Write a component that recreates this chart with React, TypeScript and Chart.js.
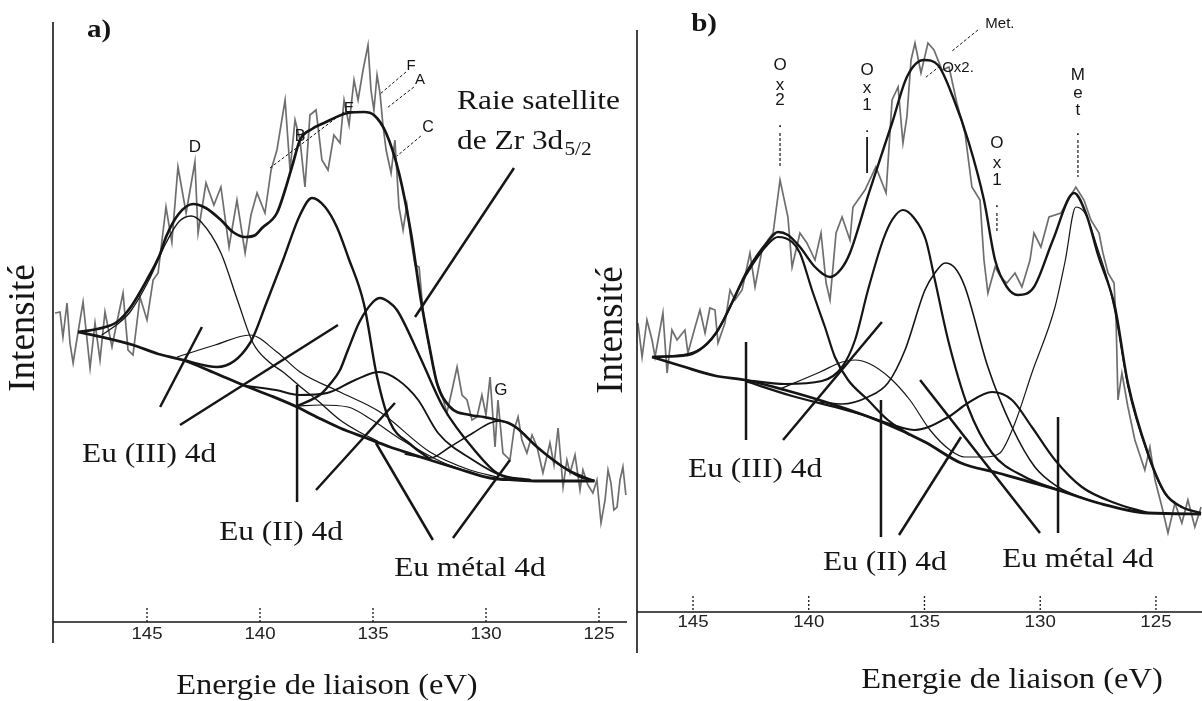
import React, { useEffect, useRef } from 'react';
import { Chart, registerables } from 'chart.js';
Chart.register(...registerables);

type P = [number, number];

// ---------- shared axis ticks ----------
const tickValues = [145, 140, 135, 130, 125];
const tickLabels = ['145', '140', '135', '130', '125'];

// ---------- panel a) : binding energy (eV), intensity (a.u.) ----------
const rawA: P[] = [
  [149.07, 309], [148.85, 310], [148.72, 285], [148.54, 319], [148.41, 279], [148.27, 259], [148.05, 290],
  [147.83, 320], [147.52, 254], [147.30, 299], [147.08, 262], [146.86, 310], [146.55, 275], [146.33, 300],
  [146.06, 329], [145.84, 272], [145.62, 267], [145.31, 325], [145.00, 302], [144.73, 342], [144.51, 349],
  [144.16, 415], [143.90, 380], [143.63, 455], [143.27, 409], [142.88, 460], [142.74, 389], [142.39, 439],
  [142.04, 417], [141.73, 435], [141.37, 375], [141.02, 422], [140.66, 369], [140.40, 407], [140.13, 429],
  [139.78, 409], [139.51, 452], [139.25, 472], [138.89, 522], [138.67, 452], [138.45, 502], [138.23, 482],
  [138.01, 435], [137.79, 507], [137.52, 512], [137.26, 462], [136.99, 452], [136.73, 487], [136.46, 479],
  [136.28, 522], [136.06, 497], [135.84, 542], [135.66, 522], [135.44, 552], [135.22, 577], [135.09, 532],
  [134.96, 512], [134.82, 547], [134.69, 529], [134.56, 497], [134.42, 472], [134.20, 449], [134.03, 482],
  [133.85, 415], [133.67, 392], [133.50, 417], [133.32, 382], [133.14, 357], [132.96, 355], [132.79, 312],
  [132.57, 282], [132.35, 257], [132.17, 239], [131.95, 227], [131.73, 209], [131.50, 232], [131.28, 255],
  [131.06, 227], [130.84, 222], [130.62, 202], [130.40, 205], [130.18, 227], [130.00, 207], [129.82, 245],
  [129.60, 175], [129.47, 222], [129.25, 169], [128.94, 162], [128.76, 192], [128.58, 205], [128.41, 182],
  [128.19, 169], [127.96, 187], [127.74, 175], [127.48, 149], [127.17, 179], [126.99, 157], [126.81, 194],
  [126.59, 135], [126.42, 162], [126.28, 149], [126.06, 167], [125.84, 132], [125.71, 152], [125.49, 137],
  [125.27, 129], [125.09, 142], [124.91, 99], [124.73, 122], [124.60, 152], [124.47, 139], [124.34, 112],
  [124.20, 115], [124.07, 142], [123.94, 155], [123.81, 127],
];
const envA: P[] = [
  [148.05, 290], [147.20, 293], [146.33, 300], [145.75, 314], [144.96, 344], [144.42, 368], [144.16, 385],
  [143.60, 408], [142.96, 418], [142.40, 414], [141.73, 402], [141.20, 390], [140.66, 385], [140.20, 387],
  [139.91, 394], [139.25, 409], [138.89, 432], [138.55, 458], [138.23, 482], [137.70, 493], [137.17, 499],
  [136.11, 509], [135.40, 510], [134.96, 507], [134.42, 489], [133.85, 449], [133.32, 389], [132.88, 322],
  [132.50, 275], [132.17, 239], [131.59, 215], [130.71, 207], [130.10, 205], [129.51, 202], [129.00, 199],
  [128.63, 194], [127.74, 175], [126.59, 155], [125.90, 146], [125.20, 141],
];
const bgA: P[] = [
  [148.05, 290], [147.00, 285], [145.62, 277], [144.50, 268], [143.41, 262], [142.00, 249], [140.75, 237],
  [139.50, 226], [138.36, 215], [137.40, 204], [136.46, 194], [135.30, 184], [134.25, 175], [133.30, 168],
  [132.48, 162], [131.20, 153], [129.82, 144], [128.70, 142], [127.61, 141], [125.20, 141],
];
const peakA_D: P[] = [
  [147.00, 287], [146.30, 298], [145.75, 310], [144.96, 340], [144.16, 379], [143.60, 400], [143.05, 406],
  [142.60, 400], [141.73, 369], [141.00, 322], [140.31, 279], [139.60, 260], [138.98, 250], [138.20, 235],
  [137.48, 222], [136.46, 202], [135.60, 190], [134.80, 181],
];
const peakA_140: P[] = [
  [143.67, 265], [141.99, 277], [140.44, 287], [139.25, 270], [138.23, 250], [136.46, 230], [134.69, 210],
  [132.48, 170], [130.71, 152], [129.50, 145],
];
const peakA_137: P[] = [
  [143.41, 262], [141.90, 255], [140.44, 279], [139.70, 320], [138.98, 362], [138.23, 407], [137.70, 424],
  [137.12, 415], [136.60, 395], [136.10, 365], [135.40, 318], [134.82, 245], [134.25, 200], [133.36, 178],
  [132.48, 163],
];
const peakA_135: P[] = [
  [138.36, 216], [137.30, 228], [136.90, 238], [136.46, 252], [136.11, 272], [135.60, 300], [135.00, 320],
  [134.69, 324], [134.30, 320], [133.94, 312], [132.92, 265], [131.90, 215], [130.40, 169], [129.51, 149],
  [128.05, 142],
];
const peakA_134: P[] = [
  [140.60, 236], [139.30, 232], [138.27, 227], [137.03, 229], [135.79, 242], [134.73, 250], [133.89, 242],
  [133.00, 222], [132.12, 189], [130.58, 162], [129.16, 145], [128.00, 142],
];
const peakA_136: P[] = [
  [138.36, 216], [137.34, 217], [136.11, 215], [135.04, 202], [133.72, 182], [131.95, 160], [130.20, 146],
];
const peakA_G: P[] = [
  [133.60, 168], [132.48, 164], [131.60, 175], [130.58, 189], [129.82, 199], [129.40, 201], [128.63, 194],
  [127.74, 175], [126.59, 155], [125.20, 141],
];

// ---------- panel b) ----------
const rawB: P[] = [
  [147.38, 289], [147.20, 255], [146.99, 292], [146.77, 272], [146.64, 255], [146.30, 299], [146.12, 239],
  [145.91, 282], [145.69, 272], [145.35, 282], [145.22, 259], [144.91, 285], [144.70, 302], [144.48, 279],
  [144.27, 304], [144.05, 302], [143.92, 269], [143.62, 289], [143.40, 322], [143.19, 312], [142.88, 322],
  [142.54, 359], [142.32, 325], [142.02, 362], [141.76, 372], [141.54, 379], [141.24, 432], [140.90, 395],
  [140.72, 345], [140.38, 379], [140.08, 369], [139.73, 352], [139.47, 379], [139.25, 329], [139.08, 312],
  [138.82, 379], [138.56, 395], [138.22, 372], [138.09, 405], [137.57, 422], [137.10, 445], [136.66, 419],
  [136.40, 512], [136.14, 525], [135.93, 469], [135.76, 495], [135.58, 552], [135.41, 569], [135.15, 539],
  [134.85, 569], [134.59, 562], [134.24, 542], [133.94, 545], [133.60, 509], [133.25, 479], [132.95, 425],
  [132.60, 412], [132.43, 352], [132.26, 319], [131.95, 345], [131.70, 335], [131.44, 329], [131.09, 339],
  [130.79, 325], [130.44, 352], [130.27, 379], [129.97, 365], [129.62, 395], [129.10, 399], [128.80, 412],
  [128.46, 425], [128.11, 412], [127.81, 392], [127.46, 379], [127.29, 359], [127.07, 339], [126.81, 329],
  [126.72, 289], [126.64, 212], [126.47, 239], [126.21, 205], [125.91, 172], [125.48, 142], [125.26, 165],
  [125.04, 132], [124.74, 105], [124.48, 79], [124.18, 109], [123.88, 89], [123.62, 112], [123.32, 85],
  [123.05, 105],
];
const envB: P[] = [
  [146.77, 255], [145.22, 257], [144.50, 266], [143.92, 282], [143.30, 310], [142.71, 339], [141.72, 372],
  [141.33, 380], [140.90, 377], [140.38, 365], [139.73, 345], [139.08, 335], [138.60, 343], [138.22, 359],
  [137.40, 419], [136.40, 489], [135.76, 535], [135.02, 552], [134.42, 547], [133.77, 515], [133.08, 469],
  [132.43, 412], [131.95, 352], [131.44, 325], [130.96, 317], [130.27, 325], [129.45, 372], [128.54, 419],
  [128.00, 397], [127.50, 357], [126.77, 305], [126.21, 229], [125.35, 159], [124.61, 119], [123.88, 105],
  [123.05, 99],
];
const bgB: P[] = [
  [146.77, 255], [145.50, 246], [144.00, 236], [142.75, 232], [141.03, 222], [138.87, 207], [136.84, 190],
  [134.98, 170], [133.42, 149], [131.82, 139], [129.23, 122], [127.49, 109], [125.35, 99], [123.05, 98],
];
const peakB_Ox2: P[] = [
  [146.77, 255], [145.22, 258], [144.50, 266], [143.92, 282], [142.71, 337], [141.72, 369], [141.33, 375],
  [140.72, 370], [140.38, 359], [139.86, 322], [139.30, 285], [138.87, 255], [138.30, 232], [137.44, 212],
  [136.58, 192], [135.63, 177],
];
const peakB_136: P[] = [
  [142.75, 232], [141.03, 228], [139.43, 231], [138.56, 245], [138.00, 272], [137.44, 322], [136.79, 372],
  [136.40, 392], [135.93, 402], [135.45, 394], [134.94, 372], [134.55, 332], [133.98, 272], [133.12, 205],
  [132.08, 159], [130.66, 135], [129.23, 122],
];
const peakB_134: P[] = [
  [139.51, 210], [138.56, 208], [137.44, 215], [136.58, 229], [135.84, 262], [134.98, 322], [134.55, 339],
  [134.11, 349], [133.68, 344], [133.25, 325], [132.26, 245], [131.22, 185], [130.23, 145], [129.23, 125],
  [128.28, 115], [127.49, 109],
];
const peakB_132: P[] = [
  [142.75, 231], [140.72, 216], [138.87, 205], [137.79, 198], [136.49, 188], [135.41, 182], [133.98, 195],
  [133.12, 209], [132.08, 220], [131.22, 212], [130.36, 185], [129.36, 152], [128.20, 125], [126.77, 109],
  [125.35, 99],
];
const peakB_Met: P[] = [
  [141.24, 223], [139.51, 240], [138.56, 250], [138.00, 252], [137.35, 248], [136.49, 234], [135.63, 212],
  [134.76, 182], [133.90, 162], [133.25, 155], [132.39, 155], [131.74, 159], [131.09, 189], [130.36, 239],
  [129.36, 305], [128.93, 350], [128.46, 405], [128.02, 397], [127.50, 362], [127.10, 333], [126.77, 300],
  [126.21, 225], [125.35, 157], [124.61, 118], [123.88, 104],
];

// ---------- styling / annotation config ----------
const SERIF = "'Liberation Serif', 'Times New Roman', serif";
const SANS = "'Liberation Sans', Arial, sans-serif";
const INK = '#151515';
const RAW = 'rgba(85,85,85,0.85)';

type Txt = { s: string; e: number; v: number; size: number; kind: 'serif' | 'sans' | 'bold'; align?: CanvasTextAlign; sub?: string; rot?: boolean };
type Seg = { a: P; b: P; w: number; dash?: boolean };

const panelA = {
  width: 632,
  padding: { left: 53, right: 5, top: 22, bottom: 79 },
  xMin: 123.76, xMax: 149.16, yMax: 600,
  yAxisOverhang: 21, tickLen: 14, tickLabelOffset: 12,
  series: [
    { pts: rawA, w: 1.7, color: RAW, smooth: false, order: 9 },
    { pts: peakA_D, w: 1.3, color: INK, smooth: true, order: 2 },
    { pts: peakA_140, w: 1.2, color: INK, smooth: true, order: 2 },
    { pts: peakA_136, w: 1.2, color: INK, smooth: true, order: 2 },
    { pts: peakA_G, w: 1.6, color: INK, smooth: true, order: 2 },
    { pts: peakA_134, w: 1.9, color: INK, smooth: true, order: 1 },
    { pts: peakA_137, w: 2.4, color: INK, smooth: true, order: 1 },
    { pts: peakA_135, w: 2.4, color: INK, smooth: true, order: 1 },
    { pts: bgA, w: 2.8, color: INK, smooth: true, order: 0 },
    { pts: envA, w: 2.7, color: INK, smooth: true, order: 0 },
  ],
  texts: [
    { s: 'a)', e: 147.12, v: 592, size: 26, kind: 'bold' },
    { s: 'D', e: 142.88, v: 475, size: 17, kind: 'sans' },
    { s: 'B', e: 138.23, v: 485, size: 16, kind: 'sans' },
    { s: 'E', e: 136.06, v: 514, size: 15, kind: 'sans' },
    { s: 'F', e: 133.32, v: 556, size: 15, kind: 'sans' },
    { s: 'A', e: 132.92, v: 542, size: 15, kind: 'sans' },
    { s: 'C', e: 132.57, v: 494, size: 16, kind: 'sans' },
    { s: 'G', e: 129.34, v: 232, size: 17, kind: 'sans' },
    { s: 'Raie satellite', e: 131.28, v: 520, size: 28, kind: 'serif', align: 'left' },
    { s: 'de Zr 3d', sub: '5/2', e: 131.28, v: 480, size: 28, kind: 'serif', align: 'left' },
    { s: 'Eu (III) 4d', e: 144.91, v: 167, size: 28, kind: 'serif' },
    { s: 'Eu (II) 4d', e: 139.07, v: 89, size: 28, kind: 'serif' },
    { s: 'Eu métal 4d', e: 130.71, v: 53, size: 28, kind: 'serif' },
    { s: 'Energie de liaison (eV)', e: 137.04, v: -64, size: 29, kind: 'serif' },
    { s: 'Intensité', e: 150.44, v: 294, size: 37, kind: 'serif', rot: true },
  ] as Txt[],
  segs: [
    { a: [144.42, 215], b: [142.57, 295], w: 2.5 },
    { a: [143.54, 197], b: [136.55, 297], w: 2.5 },
    { a: [138.36, 237], b: [138.36, 120], w: 2.5 },
    { a: [137.52, 132], b: [134.03, 219], w: 2.5 },
    { a: [134.87, 179], b: [132.35, 82], w: 2.5 },
    { a: [131.46, 84], b: [128.94, 162], w: 2.5 },
    { a: [128.76, 454], b: [133.14, 305], w: 2.5 },
    { a: [133.54, 550], b: [134.69, 528], w: 1, dash: true },
    { a: [133.19, 535], b: [134.38, 514], w: 1, dash: true },
    { a: [132.88, 486], b: [133.94, 466], w: 1, dash: true },
    { a: [136.28, 510], b: [139.56, 454], w: 1, dash: true },
  ] as Seg[],
  stacks: [] as { chars: string[]; e: number; vs: number[] }[],
};

const panelB = {
  width: 612,
  padding: { left: 47, right: 0, top: 30, bottom: 89 },
  xMin: 123.01, xMax: 147.42, yMax: 582,
  yAxisOverhang: 41, tickLen: 16, tickLabelOffset: 10,
  series: [
    { pts: rawB, w: 1.7, color: RAW, smooth: false, order: 9 },
    { pts: peakB_Met, w: 1.2, color: INK, smooth: true, order: 2 },
    { pts: peakB_134, w: 1.6, color: INK, smooth: true, order: 2 },
    { pts: peakB_132, w: 2.2, color: INK, smooth: true, order: 1 },
    { pts: peakB_136, w: 2.2, color: INK, smooth: true, order: 1 },
    { pts: peakB_Ox2, w: 2.2, color: INK, smooth: true, order: 1 },
    { pts: bgB, w: 2.8, color: INK, smooth: true, order: 0 },
    { pts: envB, w: 2.4, color: INK, smooth: true, order: 0 },
  ],
  texts: [
    { s: 'b)', e: 144.52, v: 588, size: 26, kind: 'bold' },
    { s: 'Met.', e: 131.74, v: 588, size: 15, kind: 'sans' },
    { s: 'Ox2.', e: 133.55, v: 544, size: 15, kind: 'sans' },
    { s: 'Eu (III) 4d', e: 142.32, v: 142, size: 28, kind: 'serif' },
    { s: 'Eu (II) 4d', e: 136.71, v: 49, size: 28, kind: 'serif' },
    { s: 'Eu métal 4d', e: 128.37, v: 52, size: 28, kind: 'serif' },
    { s: 'Energie de liaison (eV)', e: 131.22, v: -68, size: 29, kind: 'serif' },
    { s: 'Intensité', e: 148.50, v: 282, size: 37, kind: 'serif', rot: true },
  ] as Txt[],
  segs: [
    { a: [142.71, 270], b: [142.71, 172], w: 2.5 },
    { a: [141.11, 172], b: [136.84, 290], w: 2.5 },
    { a: [136.88, 212], b: [136.88, 75], w: 2.5 },
    { a: [136.10, 77], b: [133.42, 175], w: 2.5 },
    { a: [135.19, 232], b: [130.01, 79], w: 2.5 },
    { a: [129.23, 195], b: [129.23, 79], w: 2.5 },
    { a: [141.24, 479], b: [141.24, 445], w: 1.2, dash: true },
    { a: [137.48, 475], b: [137.48, 439], w: 1.8 },
    { a: [131.87, 399], b: [131.87, 379], w: 1.2, dash: true },
    { a: [128.37, 472], b: [128.37, 435], w: 1.2, dash: true },
    { a: [132.69, 582], b: [133.86, 560], w: 1, dash: true },
    { a: [134.33, 546], b: [134.98, 534], w: 1, dash: true },
  ] as Seg[],
  stacks: [
    { chars: ['O', 'x', '2', '.'], e: 141.24, vs: [547, 527, 512, 490] },
    { chars: ['O', 'x', '1', '.'], e: 137.48, vs: [542, 524, 507, 485] },
    { chars: ['O', 'x', '1', '.'], e: 131.87, vs: [469, 449, 432, 410] },
    { chars: ['M', 'e', 't', '.'], e: 128.37, vs: [537, 519, 502, 482] },
  ],
};

function fontOf(t: { size: number; kind: string }) {
  if (t.kind === 'bold') return `bold ${t.size}px ${SERIF}`;
  if (t.kind === 'sans') return `${t.size}px ${SANS}`;
  return `${t.size}px ${SERIF}`;
}

function overlay(panel: any) {
  return {
    id: 'overlay',
    afterDatasetsDraw(chart: any) {
      const { ctx, chartArea: ca } = chart;
      const xs = chart.scales.x;
      const ys = chart.scales.y;
      const px = (e: number) => xs.getPixelForValue(e);
      const py = (v: number) => ys.getPixelForValue(v);
      ctx.save();
      ctx.strokeStyle = INK;
      ctx.fillStyle = INK;
      ctx.lineCap = 'butt';
      // axis lines
      ctx.lineWidth = 1.6;
      ctx.beginPath();
      ctx.moveTo(ca.left, ca.top);
      ctx.lineTo(ca.left, ca.bottom + panel.yAxisOverhang);
      ctx.moveTo(ca.left, ca.bottom);
      ctx.lineTo(ca.right, ca.bottom);
      ctx.stroke();
      // ticks (dotted, inside)
      ctx.lineWidth = 1.3;
      ctx.setLineDash([2, 2]);
      tickValues.forEach((t) => {
        const X = px(t);
        ctx.beginPath();
        ctx.moveTo(X, ca.bottom - panel.tickLen);
        ctx.lineTo(X, ca.bottom);
        ctx.stroke();
      });
      ctx.setLineDash([]);
      // tick labels
      tickValues.forEach((t, i) => {
        ctx.save();
        ctx.translate(px(t), ca.bottom + panel.tickLabelOffset);
        ctx.scale(1.1, 1);
        ctx.font = `17px ${SANS}`;
        ctx.textAlign = 'center';
        ctx.textBaseline = 'middle';
        ctx.fillStyle = '#222';
        ctx.fillText(tickLabels[i], 0, 0);
        ctx.restore();
      });
      // segments
      panel.segs.forEach((s: Seg) => {
        ctx.lineWidth = s.w;
        ctx.setLineDash(s.dash ? [3, 2] : []);
        ctx.beginPath();
        ctx.moveTo(px(s.a[0]), py(s.a[1]));
        ctx.lineTo(px(s.b[0]), py(s.b[1]));
        ctx.stroke();
      });
      ctx.setLineDash([]);
      // texts
      panel.texts.forEach((t: Txt) => {
        ctx.save();
        ctx.translate(px(t.e), py(t.v));
        if (t.rot) ctx.rotate(-Math.PI / 2);
        else if (t.kind !== 'sans') ctx.scale(1.12, 1);
        ctx.font = fontOf(t);
        ctx.textAlign = t.align || 'center';
        ctx.textBaseline = 'middle';
        ctx.fillText(t.s, 0, 0);
        if (t.sub) {
          const w = ctx.measureText(t.s).width;
          ctx.font = `${Math.round(t.size * 0.68)}px ${SERIF}`;
          ctx.textAlign = 'left';
          ctx.fillText(t.sub, w + 1, 8);
        }
        ctx.restore();
      });
      // stacked vertical labels
      panel.stacks.forEach((st: any) => {
        st.chars.forEach((c: string, i: number) => {
          ctx.font = `17px ${SANS}`;
          ctx.textAlign = 'center';
          ctx.textBaseline = 'middle';
          ctx.fillText(c, px(st.e), py(st.vs[i]));
        });
      });
      ctx.restore();
    },
  };
}

function buildConfig(panel: any): any {
  return {
    type: 'line',
    data: {
      datasets: panel.series.map((s: any, i: number) => ({
        label: 'series' + i,
        data: s.pts.map(([x, y]: P) => ({ x, y })),
        borderColor: s.color,
        borderWidth: s.w,
        pointRadius: 0,
        fill: false,
        tension: s.smooth ? 0.4 : 0,
        cubicInterpolationMode: s.smooth ? 'monotone' : 'default',
        order: s.order,
        clip: false,
      })),
    },
    options: {
      animation: false,
      responsive: false,
      devicePixelRatio: 1,
      events: [],
      layout: { padding: panel.padding },
      plugins: { legend: { display: false }, tooltip: { enabled: false }, title: { display: false } },
      scales: {
        x: { type: 'linear', reverse: true, min: panel.xMin, max: panel.xMax, display: false },
        y: { type: 'linear', min: 0, max: panel.yMax, display: false },
      },
    },
    plugins: [overlay(panel)],
  };
}

export default function App() {
  const refA = useRef<HTMLCanvasElement>(null);
  const refB = useRef<HTMLCanvasElement>(null);
  useEffect(() => {
    const a = new Chart(refA.current as HTMLCanvasElement, buildConfig(panelA));
    const b = new Chart(refB.current as HTMLCanvasElement, buildConfig(panelB));
    return () => {
      a.destroy();
      b.destroy();
    };
  }, []);
  return (
    <div style={{ position: 'absolute', left: 0, top: 0, width: 1202, height: 701, background: '#fff', overflow: 'hidden' }}>
      <canvas ref={refA} width={panelA.width} height={701} style={{ position: 'absolute', left: 0, top: 0 }} />
      <canvas ref={refB} width={panelB.width} height={701} style={{ position: 'absolute', left: 590, top: 0 }} />
    </div>
  );
}
